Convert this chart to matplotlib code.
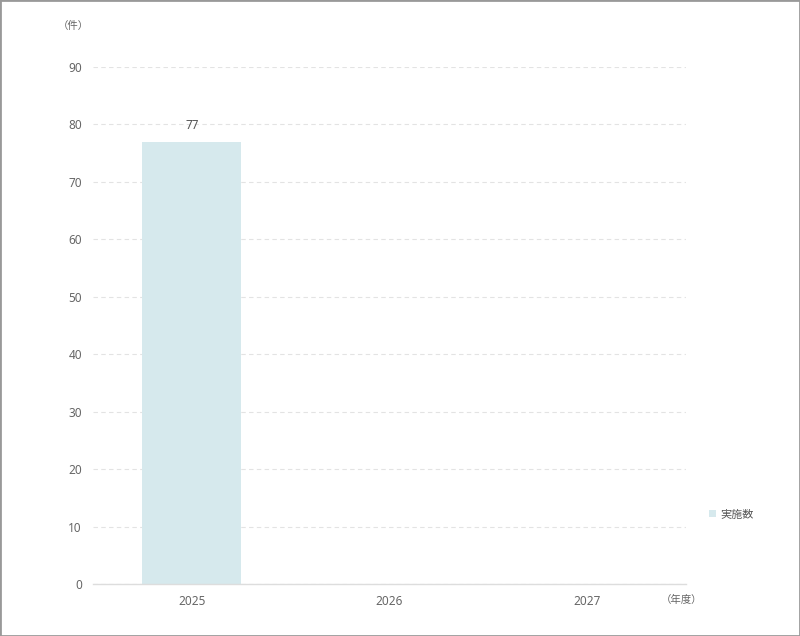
import matplotlib
matplotlib.use('Agg')
import numpy as np
from matplotlib import pyplot as plt
from matplotlib.patches import Rectangle

plt.rcParams['font.family'] = ['Noto Sans', 'Noto Sans CJK JP', 'DejaVu Sans']

years = ['2025', '2026', '2027']
counts = [77, None, None]
series_name = '実施数'
y_ticks = [0, 10, 20, 30, 40, 50, 60, 70, 80, 90]

bar_color = '#d6e9ed'
text_color = '#666666'
grid_color = '#e3e3e3'

fig = plt.figure(figsize=(8, 6.36), dpi=100)
ax = fig.add_axes([0.11625, 0.0818, 0.74125, 0.8129])

x = np.arange(len(years))
vals = [v if v is not None else 0 for v in counts]
bars = ax.bar(x, vals, width=0.5, color=bar_color, label=series_name, zorder=2)
for xi, v in zip(x, counts):
    if v is not None:
        ax.text(xi, v + 1.6, str(v), ha='center', va='bottom', fontsize=8.5, color='#555555')

ax.set_xlim(-0.5, len(years) - 0.5)
ax.set_ylim(0, 90)
ax.set_xticks(x)
ax.set_xticklabels(years)
ax.set_yticks(y_ticks)
ax.tick_params(length=0, labelsize=8.5, labelcolor=text_color)
ax.tick_params(axis='y', pad=8)
ax.tick_params(axis='x', pad=8)
ax.yaxis.grid(True, linestyle=(0, (4, 3)), color=grid_color, linewidth=0.8, zorder=0)
ax.set_axisbelow(True)
for s in ['top', 'right', 'left']:
    ax.spines[s].set_visible(False)
ax.spines['bottom'].set_color('#dddddd')
ax.spines['bottom'].set_linewidth(1)

fig.text(73 / 800, 1 - 27 / 636, '（件）', ha='center', va='center', fontsize=7.5, color=text_color)
fig.text(682 / 800, 1 - 600 / 636, '（年度）', ha='center', va='center', fontsize=7.5, color=text_color)

leg = ax.legend(loc='center left', bbox_to_anchor=(1.022, 0.133), frameon=False,
                fontsize=8, handlelength=0.6, handleheight=0.6, handletextpad=0.4,
                labelcolor='#555555')

fig.patches.append(Rectangle((0, 0), 1, 1, transform=fig.transFigure, fill=False,
                             edgecolor='#999999', linewidth=2))

fig.savefig('out.png', dpi=100)
